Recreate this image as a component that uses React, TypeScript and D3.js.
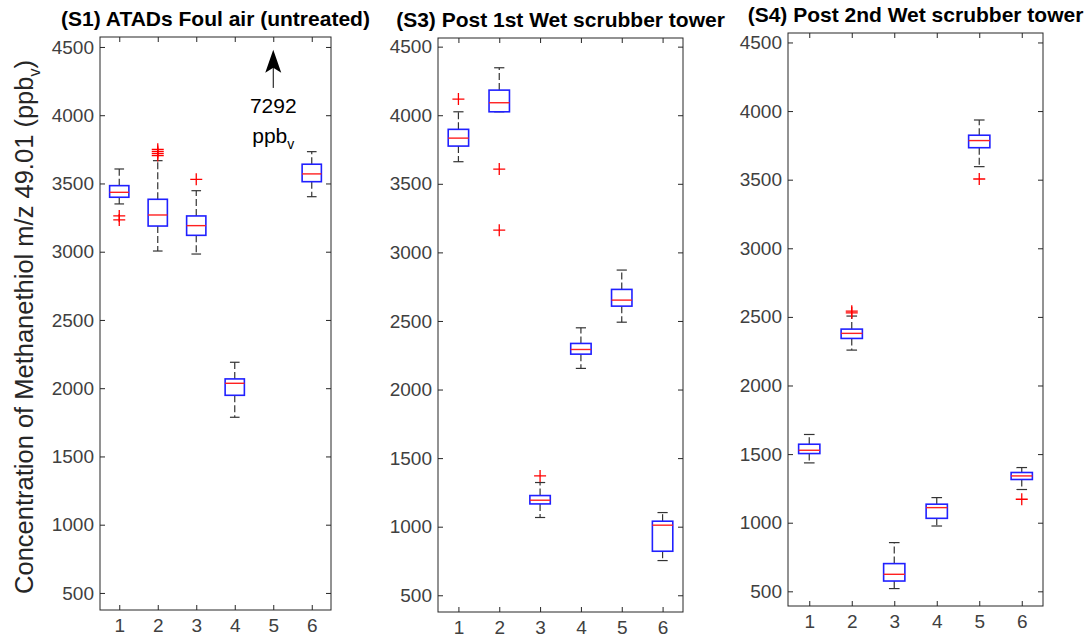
import React, { useEffect, useRef } from 'react';
import * as d3 from 'd3';

const positions = [1, 2, 3, 4, 5, 6];
const yTicks = [500, 1000, 1500, 2000, 2500, 3000, 3500, 4000, 4500];
const titles = [
  '(S1) ATADs Foul air (untreated)',
  '(S3) Post 1st Wet scrubber tower',
  '(S4) Post 2nd Wet scrubber tower',
];

// [lower whisker, q1, median, q3, upper whisker]
const s1Boxes = [
  [3350, 3399, 3435, 3484, 3606],
  [3005, 3188, 3269, 3384, 3667],
  [2983, 3120, 3191, 3262, 3447],
  [1787, 1948, 2036, 2068, 2190],
  null,
  [3403, 3513, 3570, 3641, 3733],
];
const s1Outliers = [[3262, 3233], [3705, 3720, 3735, 3750], [3530], [], [], []];

const s3Boxes = [
  [3661, 3775, 3833, 3897, 4025],
  [4025, 4025, 4091, 4183, 4346],
  [1067, 1166, 1193, 1227, 1322],
  [2154, 2258, 2292, 2336, 2450],
  [2491, 2608, 2652, 2730, 2871],
  [753, 821, 1011, 1040, 1103],
];
const s3Outliers = [[4118], [3607, 3162], [1370], [], [], []];

const s4Boxes = [
  [1436, 1504, 1528, 1572, 1643],
  [2258, 2343, 2380, 2411, 2506],
  [520, 575, 624, 702, 855],
  [976, 1032, 1110, 1135, 1183],
  [3595, 3733, 3785, 3824, 3935],
  [1242, 1315, 1341, 1366, 1402],
];
const s4Outliers = [[], [2530, 2542], [], [], [3505], [1171]];

// off-scale note for S1 position 5
const s1OffScale = 7292;

const layouts = [
  { left: 100, right: 331, top: 37, bottom: 610, yDomain: [375, 4573] },
  { left: 438, right: 683, top: 38, bottom: 612, yDomain: [378, 4563] },
  { left: 788, right: 1043, top: 33, bottom: 606, yDomain: [393, 4569] },
];

const axisColor = '#262626';
const fontFamily = 'Liberation Sans, Arial, Helvetica, sans-serif';

export default function App() {
  const svgRef = useRef<SVGSVGElement>(null);

  useEffect(() => {
    const svg = d3.select(svgRef.current);
    svg.selectAll('*').remove();

    const boxSets = [s1Boxes, s3Boxes, s4Boxes];
    const outlierSets = [s1Outliers, s3Outliers, s4Outliers];

    layouts.forEach((lay, pi) => {
      const x = d3.scaleLinear().domain([0.5, 6.5]).range([lay.left, lay.right]);
      const y = d3.scaleLinear().domain(lay.yDomain).range([lay.bottom, lay.top]);
      const g = svg.append('g');
      const unit = x(2) - x(1);
      const bw = unit * 0.5;
      const cw = unit * 0.25;

      // axes
      const styleAxis = (ag: any) => {
        ag.select('.domain').remove();
        ag.selectAll('line').attr('stroke', axisColor);
        ag.selectAll('text')
          .attr('fill', '#404040')
          .attr('font-size', 19)
          .attr('font-family', fontFamily);
      };
      g.append('g')
        .attr('transform', `translate(${lay.left},0)`)
        .call(d3.axisLeft(y).tickValues(yTicks).tickSizeInner(-5).tickSizeOuter(0).tickPadding(6).tickFormat(d3.format('d')))
        .call(styleAxis);
      g.append('g')
        .attr('transform', `translate(${lay.right},0)`)
        .call(d3.axisRight(y).tickValues(yTicks).tickSizeInner(-5).tickSizeOuter(0).tickFormat(() => ''))
        .call(styleAxis);
      g.append('g')
        .attr('transform', `translate(0,${lay.bottom})`)
        .call(d3.axisBottom(x).tickValues(positions).tickSizeInner(-5).tickSizeOuter(0).tickPadding(9).tickFormat(d3.format('d')))
        .call(styleAxis);
      g.append('g')
        .attr('transform', `translate(0,${lay.top})`)
        .call(d3.axisTop(x).tickValues(positions).tickSizeInner(-5).tickSizeOuter(0).tickFormat(() => ''))
        .call(styleAxis);
      g.append('rect')
        .attr('x', lay.left)
        .attr('y', lay.top)
        .attr('width', lay.right - lay.left)
        .attr('height', lay.bottom - lay.top)
        .attr('fill', 'none')
        .attr('stroke', axisColor)
        .attr('stroke-width', 1);

      // title
      g.append('text')
        .attr('x', (lay.left + lay.right) / 2)
        .attr('y', lay.top - 11)
        .attr('text-anchor', 'middle')
        .attr('font-family', fontFamily)
        .attr('font-weight', 'bold')
        .attr('font-size', 21)
        .attr('fill', '#000')
        .text(titles[pi]);

      // boxes
      boxSets[pi].forEach((b, i) => {
        if (!b) return;
        const cx = x(positions[i]);
        const [lo, q1, med, q3, hi] = b;
        const wg = g.append('g').attr('stroke', '#333').attr('stroke-width', 1.2);
        wg.append('line').attr('x1', cx).attr('x2', cx).attr('y1', y(q3)).attr('y2', y(hi)).attr('stroke-dasharray', '7 3');
        wg.append('line').attr('x1', cx).attr('x2', cx).attr('y1', y(q1)).attr('y2', y(lo)).attr('stroke-dasharray', '7 3');
        wg.append('line').attr('x1', cx - cw / 2).attr('x2', cx + cw / 2).attr('y1', y(hi)).attr('y2', y(hi));
        wg.append('line').attr('x1', cx - cw / 2).attr('x2', cx + cw / 2).attr('y1', y(lo)).attr('y2', y(lo));
        g.append('rect')
          .attr('x', cx - bw / 2)
          .attr('y', y(q3))
          .attr('width', bw)
          .attr('height', Math.max(y(q1) - y(q3), 0))
          .attr('fill', 'none')
          .attr('stroke', '#2020ff')
          .attr('stroke-width', 1.6);
        g.append('line')
          .attr('x1', cx - bw / 2)
          .attr('x2', cx + bw / 2)
          .attr('y1', y(med))
          .attr('y2', y(med))
          .attr('stroke', '#ff2020')
          .attr('stroke-width', 1.4);
      });

      // outliers
      outlierSets[pi].forEach((list, i) => {
        const cx = x(positions[i]);
        list.forEach((v) => {
          const cy = y(v);
          g.append('path')
            .attr('d', `M${cx - 6},${cy}H${cx + 6}M${cx},${cy - 6}V${cy + 6}`)
            .attr('stroke', '#ff0000')
            .attr('stroke-width', 1.3)
            .attr('fill', 'none');
        });
      });

      // off-scale annotation
      if (pi === 0) {
        const ax = x(5);
        const tip = y(4480);
        const tail = y(4200);
        g.append('line').attr('x1', ax).attr('x2', ax).attr('y1', tail).attr('y2', tip + 10).attr('stroke', '#000').attr('stroke-width', 1);
        g.append('path')
          .attr('d', `M${ax},${tip}L${ax + 8},${tip + 23}L${ax},${tip + 18}L${ax - 8},${tip + 23}Z`)
          .attr('fill', '#000');
        g.append('text')
          .attr('x', ax)
          .attr('y', tail + 25)
          .attr('text-anchor', 'middle')
          .attr('font-family', fontFamily)
          .attr('font-size', 21)
          .attr('fill', '#000')
          .text(String(s1OffScale));
        const t = g.append('text')
          .attr('x', ax)
          .attr('y', tail + 55)
          .attr('text-anchor', 'middle')
          .attr('font-family', fontFamily)
          .attr('font-size', 21)
          .attr('fill', '#000');
        t.append('tspan').text('ppb');
        t.append('tspan').attr('font-size', 14).attr('dy', 6).text('v');
      }
    });

    // y label
    const yl = svg.append('text')
      .attr('transform', `translate(33,${327}) rotate(-90)`)
      .attr('text-anchor', 'middle')
      .attr('font-family', fontFamily)
      .attr('font-size', 25.5)
      .attr('fill', '#262626');
    yl.append('tspan').text('Concentration of Methanethiol m/z 49.01 (ppb');
    yl.append('tspan').attr('font-size', 16).attr('dy', 7).text('v');
    yl.append('tspan').attr('dy', -7).text(')');
  }, []);

  return (
    <svg
      ref={svgRef}
      width={1087}
      height={639}
      style={{ position: 'absolute', left: 0, top: 0, background: '#fff' }}
    />
  );
}
